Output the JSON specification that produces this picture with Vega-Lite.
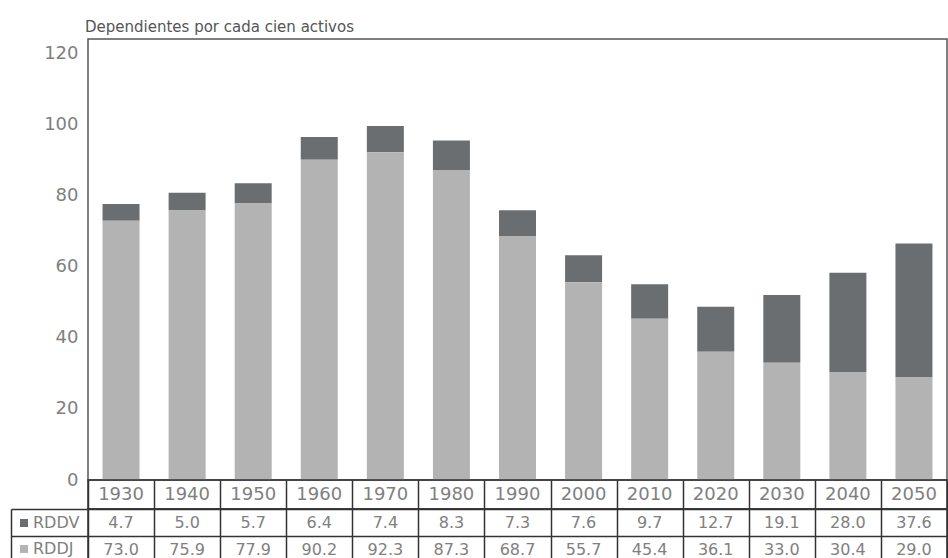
{
  "$schema": "https://vega.github.io/schema/vega-lite/v6.json",
  "padding": {"left": 9, "top": 19, "right": 2, "bottom": 0},
  "background": "white",
  "bounds": "flush",
  "spacing": 0,
  "config": {"font": "DejaVu Sans", "view": {"stroke": null}},
  "data": {"values": [
    {"year": "1930", "serie": "RDDV", "value": 4.7}, {"year": "1930", "serie": "RDDJ", "value": 73.0},
    {"year": "1940", "serie": "RDDV", "value": 5.0}, {"year": "1940", "serie": "RDDJ", "value": 75.9},
    {"year": "1950", "serie": "RDDV", "value": 5.7}, {"year": "1950", "serie": "RDDJ", "value": 77.9},
    {"year": "1960", "serie": "RDDV", "value": 6.4}, {"year": "1960", "serie": "RDDJ", "value": 90.2},
    {"year": "1970", "serie": "RDDV", "value": 7.4}, {"year": "1970", "serie": "RDDJ", "value": 92.3},
    {"year": "1980", "serie": "RDDV", "value": 8.3}, {"year": "1980", "serie": "RDDJ", "value": 87.3},
    {"year": "1990", "serie": "RDDV", "value": 7.3}, {"year": "1990", "serie": "RDDJ", "value": 68.7},
    {"year": "2000", "serie": "RDDV", "value": 7.6}, {"year": "2000", "serie": "RDDJ", "value": 55.7},
    {"year": "2010", "serie": "RDDV", "value": 9.7}, {"year": "2010", "serie": "RDDJ", "value": 45.4},
    {"year": "2020", "serie": "RDDV", "value": 12.7}, {"year": "2020", "serie": "RDDJ", "value": 36.1},
    {"year": "2030", "serie": "RDDV", "value": 19.1}, {"year": "2030", "serie": "RDDJ", "value": 33.0},
    {"year": "2040", "serie": "RDDV", "value": 28.0}, {"year": "2040", "serie": "RDDJ", "value": 30.4},
    {"year": "2050", "serie": "RDDV", "value": 37.6}, {"year": "2050", "serie": "RDDJ", "value": 29.0}
  ]},
  "vconcat": [
    {
      "width": 859,
      "height": 441,
      "title": {"text": "Dependientes por cada cien activos", "anchor": "start", "frame": "group", "fontSize": 15, "fontWeight": "normal", "color": "#555", "offset": 4, "dx": -3},
      "view": {"stroke": "#555", "strokeWidth": 1.5},
      "mark": {"type": "bar"},
      "encoding": {
        "x": {"field": "year", "type": "ordinal", "axis": null, "scale": {"paddingInner": 0.44, "paddingOuter": 0.22}},
        "y": {"field": "value", "type": "quantitative", "stack": "zero", "scale": {"domain": [0, 124.2], "nice": false},
              "axis": {"values": [0, 20, 40, 60, 80, 100, 120], "title": null, "domain": false, "ticks": false, "grid": false, "labelFontSize": 18, "labelColor": "#808080", "labelPadding": 10}},
        "color": {"field": "serie", "type": "nominal", "scale": {"domain": ["RDDV", "RDDJ"], "range": ["#6b6e70", "#b3b3b3"]},
                  "legend": {"orient": "none", "legendX": -72, "legendY": 476, "title": null, "symbolType": "square", "symbolSize": 64, "symbolStrokeWidth": 0, "labelFontSize": 16, "labelColor": "#808080", "labelOffset": 1, "rowPadding": 10, "padding": 0}},
        "order": {"field": "serie", "sort": "ascending"}
      }
    },
    {
      "width": 859,
      "height": 29,
      "view": {"stroke": "#333", "strokeWidth": 1.5},
      "transform": [{"filter": "datum.serie == 'RDDV'"}],
      "mark": {"type": "text", "fontSize": 18, "color": "#808080"},
      "encoding": {
        "x": {"field": "year", "type": "ordinal", "scale": {"paddingInner": 0, "paddingOuter": 0},
              "axis": {"labels": false, "ticks": false, "domain": false, "grid": true, "tickBand": "extent", "gridColor": "#333", "gridWidth": 1.5, "gridOpacity": 1, "title": null}},
        "text": {"field": "year"}
      }
    },
    {
      "width": 859,
      "height": 54,
      "view": {"stroke": "#333", "strokeWidth": 1.5},
      "mark": {"type": "text", "fontSize": 16, "color": "#808080"},
      "encoding": {
        "x": {"field": "year", "type": "ordinal", "scale": {"paddingInner": 0, "paddingOuter": 0},
              "axis": {"labels": false, "ticks": false, "domain": false, "grid": true, "tickBand": "extent", "gridColor": "#333", "gridWidth": 1.5, "gridOpacity": 1, "title": null}},
        "y": {"field": "serie", "type": "nominal", "sort": ["RDDV", "RDDJ"], "scale": {"paddingInner": 0, "paddingOuter": 0},
              "axis": {"title": null, "labels": false, "offset": 77, "domain": true, "domainColor": "#333", "domainWidth": 1.5, "ticks": true, "tickSize": -77, "tickBand": "extent", "tickColor": "#333", "tickWidth": 1.5, "grid": true, "gridColor": "#333", "gridWidth": 1.5, "gridOpacity": 1}},
        "text": {"field": "value", "type": "quantitative", "format": ".1f"}
      }
    }
  ]
}
